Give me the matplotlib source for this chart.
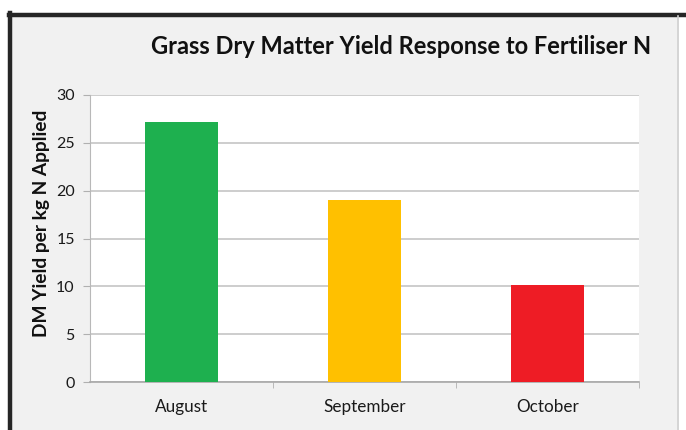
import matplotlib
matplotlib.use("Agg")
import matplotlib.pyplot as plt
from matplotlib.patches import Rectangle
from matplotlib.lines import Line2D

months = ["August", "September", "October"]
yield_per_kg_n = [27.2, 19.0, 10.1]
bar_colors = ["#1eb04f", "#ffc000", "#ee1c25"]
y_ticks = [0, 5, 10, 15, 20, 25, 30]

plt.rcParams["font.family"] = ["Lato", "DejaVu Sans"]

W, H = 686, 430
fig = plt.figure(figsize=(W / 100, H / 100), dpi=100)
fig.patch.set_facecolor("white")

# chart frame: grey panel with a dark edge top and left, light edge right
fig.patches.append(Rectangle((9 / W, 0), (679 - 9) / W, (H - 15) / H,
                             transform=fig.transFigure, facecolor="#f1f1f1",
                             edgecolor="none", zorder=-2))
fig.lines.append(Line2D([9 / W, 686 / W], [1 - 14.5 / H, 1 - 14.5 / H],
                        transform=fig.transFigure, color="#262626", lw=3.2, zorder=-1))
fig.lines.append(Line2D([9.5 / W, 9.5 / W], [0, 1 - 13 / H],
                        transform=fig.transFigure, color="#262626", lw=3.2, zorder=-1))
fig.lines.append(Line2D([678 / W, 678 / W], [0, 1 - 16 / H],
                        transform=fig.transFigure, color="#d0d0d0", lw=1.2, zorder=-1))

ax = fig.add_axes([90 / W, (H - 382) / H, (639 - 90) / W, (382 - 95) / H])
ax.set_zorder(1)
ax.set_facecolor("white")

x = range(len(months))
ax.bar(x, yield_per_kg_n, width=0.40, color=bar_colors, zorder=3)

ax.set_xlim(-0.5, len(months) - 0.5)
ax.set_ylim(0, 30)
ax.set_yticks(y_ticks)
ax.set_xticks(list(x))
ax.set_xticklabels(months, fontsize=12.3, color="#1a1a1a")
ax.set_xticks([0.5, 1.5, 2.5], minor=True)
ax.tick_params(axis="x", which="major", length=0, pad=12)
ax.tick_params(axis="x", which="minor", length=4, color="#b0b0b0")
ax.tick_params(axis="y", length=5, color="#b0b0b0", labelsize=11.5,
               labelcolor="#1a1a1a", pad=6)

ax.grid(axis="y", color="#c0c0c0", lw=1.1, zorder=0)
for side in ["top", "right"]:
    ax.spines[side].set_visible(False)
ax.spines["left"].set_color("#b8b8b8")
ax.spines["bottom"].set_color("#a8a8a8")
ax.spines["bottom"].set_linewidth(1.2)

fig.text(401 / W, 1 - 46 / H, "Grass Dry Matter Yield Response to Fertiliser N",
         ha="center", va="center", fontsize=17, fontweight="bold", color="#111111")
fig.text(42 / W, 1 - 223 / H, "DM Yield per kg N Applied", rotation=90,
         ha="center", va="center", fontsize=13.8, fontweight="bold", color="#111111")

fig.savefig("out.png", dpi=100, facecolor=fig.get_facecolor())
